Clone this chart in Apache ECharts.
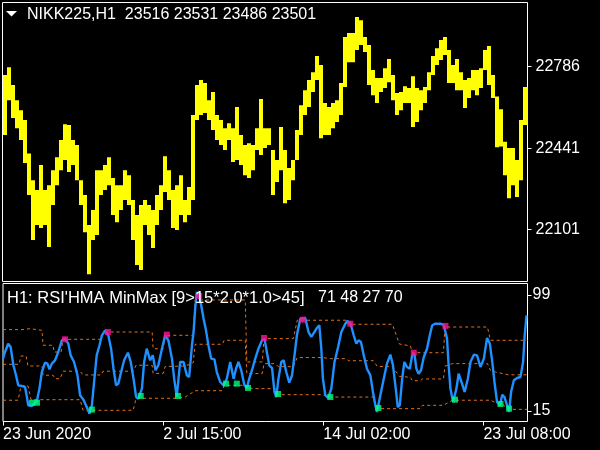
<!DOCTYPE html>
<html><head><meta charset="utf-8">
<script src="https://cdn.jsdelivr.net/npm/echarts@6/dist/echarts.min.js"></script>
<style>html,body{margin:0;padding:0;background:#000;}#c{width:600px;height:450px;}</style>
</head><body><div id="c"></div>
<script>
// ---- price panel (hourly bars, bar index 0..130) ----
const priceHigh = [22751,22784,22709,22645,22603,22561,22420,22308,22266,22372,
  22266,22287,22350,22405,22477,22544,22540,22477,22456,22308,
  22245,22119,22182,22350,22350,22372,22405,22317,22287,22287,
  22350,22329,22224,22161,22203,22224,22203,22182,22245,22287,
  22409,22350,22266,22287,22329,22224,22279,22582,22709,22730,
  22717,22645,22679,22582,22561,22527,22548,22527,22616,22498,
  22456,22464,22456,22527,22650,22527,22527,22435,22393,22532,
  22435,22359,22393,22519,22624,22687,22730,22763,22831,22793,
  22633,22616,22633,22645,22717,22911,22928,22928,22995,22982,
  22911,22877,22772,22738,22738,22780,22818,22751,22675,22679,
  22704,22696,22746,22696,22687,22700,22763,22831,22864,22898,
  22911,22856,22793,22818,22763,22730,22738,22772,22772,22780,
  22856,22873,22751,22660,22607,22470,22443,22443,22393,22561,22700];
const priceLow = [22498,22645,22570,22527,22477,22380,22245,22056,22119,22106,
  22119,22026,22203,22287,22350,22393,22342,22372,22308,22203,
  22089,21912,22056,22077,22245,22266,22287,22161,22131,22182,
  22224,22203,22056,21950,21929,22119,22077,22022,22119,22182,
  22258,22224,22106,22098,22161,22131,22161,22224,22561,22582,
  22591,22561,22519,22477,22456,22435,22477,22384,22393,22372,
  22329,22317,22350,22435,22414,22443,22456,22245,22300,22350,
  22211,22224,22308,22393,22498,22582,22616,22679,22730,22485,
  22498,22498,22527,22553,22582,22700,22805,22805,22856,22877,
  22848,22709,22666,22633,22679,22696,22721,22645,22582,22603,
  22633,22633,22532,22553,22603,22633,22687,22751,22793,22814,
  22835,22717,22717,22687,22687,22612,22654,22687,22666,22696,
  22772,22709,22654,22447,22450,22329,22232,22287,22237,22308,22540];
const priceTicks = [22786, 22441, 22101];

// ---- indicator panel ----
const rsiTicks = [99, 15];
const timeTickBars = [0, 40, 80, 120];
const timeTickLabels = ['23 Jun 2020', '2 Jul 15:00', '14 Jul 02:00', '23 Jul 08:00'];
const rsiBar = [0,0.5,1.3,1.9,2.6,3.25,3.8,4.7,5.5,5.9,6.3,7.2,8.4,9.1,9.7,10.5,11.1,11.6,12.2,13,
  13.8,14.7,15.5,16.3,16.9,17.75,18.6,19.25,20.1,21.1,21.6,22.2,22.75,23.4,24.1,24.7,25.5,26.3,27,27.6,
  28.25,28.8,29.4,30.25,31.2,31.9,32.6,33.25,33.8,34.7,35.25,35.9,36.75,37.4,38.1,38.8,39.7,40.5,41.3,42.2,
  42.75,43.4,44.25,45.1,45.9,46.5,47.2,47.6,48,48.4,49,49.5,50.1,50.7,51.3,52,52.8,53.4,54.25,55.1,
  55.9,56.75,57.6,58.2,58.8,59.5,60.3,60.9,61.5,62.3,63,63.8,64.7,65.3,65.9,66.5,67.2,67.8,68.25,68.8,
  69.5,70.1,70.75,71.5,72.2,72.8,73.4,74.25,75.5,76.3,77,77.8,78.4,79,79.5,79.9,80.5,81.2,82,82.8,
  83.7,84.5,85.5,86,86.75,87.6,88.25,88.8,89.4,90.1,90.9,91.75,92.4,93,93.4,94.25,95.1,95.9,96.75,97.4,
  98,98.6,99.1,99.7,100.25,100.9,101.6,102.2,102.75,103.25,103.8,104.4,105.1,105.9,106.6,107.2,108,109.25,110.1,110.9,
  111.3,111.75,112.4,113.25,113.8,114.5,115.3,116.1,116.75,117.6,118.4,119.25,120.1,120.9,121.6,122.2,122.75,123.4,124.1,124.7,
  125.25,125.9,126.4,126.9,127.6,128.4,129.25,129.9,130.3,130.75];
const rsiValue = [52.9,57.7,63.7,61.3,48.1,40.9,33.6,33.1,32.4,26.4,19.1,18.6,21.5,31.2,43.2,50.0,49.3,45.2,49.3,51.7,
  57.7,66.2,67.4,63.7,55.3,50.5,40.9,26.4,23.2,16.7,13.0,19.1,36.0,55.3,62.6,69.8,73.4,69.8,60.1,45.6,
  33.6,34.8,42.0,51.7,57.2,50.5,38.4,25.1,23.9,31.2,50.5,60.1,51.7,55.3,44.5,48.1,60.1,69.8,66.2,52.9,
  38.4,25.5,50.5,50.5,40.9,39.6,62.6,72.2,89.1,101.2,97.6,91.5,81.8,73.4,62.6,52.9,52.4,43.2,36.0,33.6,
  38.4,50.5,38.4,45.6,50.5,44.5,33.6,31.7,38.4,45.6,52.9,60.1,66.2,67.4,57.7,48.1,46.1,28.8,25.1,38.4,
  50.5,51.7,43.2,35.5,40.9,55.3,69.8,81.8,82.3,72.2,68.6,72.2,75.1,77.1,60.1,38.4,26.4,24.4,31.2,50.5,
  61.3,72.2,78.2,80.2,78.7,69.8,63.7,66.2,65.0,55.3,45.6,40.9,28.8,19.1,14.3,26.4,38.4,49.3,55.8,48.1,
  33.6,17.9,19.1,38.4,50.5,46.9,45.6,55.3,56.5,45.6,42.0,44.5,54.1,60.1,69.8,77.1,78.2,78.2,77.1,67.4,
  48.1,31.2,21.5,31.2,42.0,36.0,28.8,38.4,50.5,55.8,55.3,46.9,52.9,67.9,63.7,50.5,36.0,21.5,19.1,26.8,
  25.1,19.1,14.3,28.8,37.2,38.9,39.6,50.5,69.8,84.3];
const levelUpper = [[0,73.9],[4.75,73.9],[5,74.6],[6.75,74.6],[7,73.4],[9.75,73.4],[10,62.6],[12.5,62.6],[12.75,57.7],[14.5,57.7],
  [15,66.9],[24.5,66.9],[25,72.2],[37.25,72.2],[37.5,60.1],[40,60.1],[40.5,69.8],[47.5,69.8],[48,95.4],[60.5,95.4],
  [60.9,50.5],[64.75,50.5],[65.2,67.4],[72.5,67.4],[73.5,80.7],[85.75,80.7],[86.25,77.8],[97.25,77.8],[99,63.5],[101.75,62.1],
  [102.25,57.2],[110,57.2],[110.4,75.8],[121,75.8],[121.75,66.2],[131,66.2]];
const levelMiddle = [[0,48.8],[4,48.8],[4.5,54.8],[5.75,54.8],[6.25,47.6],[9.75,47.6],[10,40.9],[12.5,40.9],[13,38.4],[14.25,38.4],
  [15,43.8],[19.25,43.8],[20,41.1],[24.5,41.1],[25,43.8],[32.5,43.8],[33.25,48.1],[37.25,48.1],[37.5,42.2],[40,42.2],
  [40.5,47.2],[45.5,47.6],[47.5,49.8],[48,63.3],[54.75,63.3],[55.25,66.2],[60.5,66.2],[60.9,42.1],[64.75,42.1],[65.2,49.3],
  [68,49.3],[68.75,47.1],[72.5,47.1],[73.5,53.7],[79.75,53.7],[81.75,52.9],[85.75,52.9],[86.25,51.4],[92.5,51.4],[93.5,47.2],
  [97.25,47.2],[99,40.1],[101.75,39.4],[102.25,36.9],[104.25,36.9],[104.75,38.2],[110,38.2],[110.4,47.5],[112.25,49.3],[121,49.3],
  [121.75,44.5],[123,43.2],[126.25,41.2],[131,41.2]];
const levelLower = [[0,22.8],[3.75,22.8],[4.5,33.1],[6.25,33.1],[7,23.2],[19.25,23.2],[20,15.5],[32.5,15.5],[33.25,24.2],[43.5,24.2],
  [45.5,25.1],[48,29.7],[54.75,29.7],[55.25,33.6],[60.75,33.6],[61.25,31.2],[68,31.2],[68.75,26.8],[79.75,26.8],[81.75,25.1],
  [92.5,25.1],[93.5,16.7],[104.25,16.7],[104.75,19.1],[110,19.1],[112.25,22.8],[121.75,22.8],[123,21.1],[124.25,21.1],[126.25,16.2],[131,16.2]];
const peakBar = [15.5, 26.2, 40.9, 49, 65.2, 74.9, 86.75, 102.6, 110.5];
const peakValue = [66.9, 72.2, 70.3, 98.3, 67.9, 81.1, 78.2, 57.2, 76.6];
const troughBar = [7.25, 8.5, 22.2, 34.4, 43.7, 55.7, 58.4, 61.2, 68.7, 81.75, 93.75, 112.9, 124.25, 126.4];
const troughValue = [21.0, 21.0, 16.0, 25.9, 25.9, 34.8, 34.8, 31.7, 27.3, 25.1, 17.2, 23.2, 20.1, 16.7];

const titleMain = 'NIKK225,H1  23516 23531 23486 23501';
const titleSub = "H1: RSI'HMA MinMax [9>15*2.0*1.0>45]";
const titleSubValues = '71 48 27 70';

const FONT = 'Liberation Sans';
const chart = echarts.init(document.getElementById('c'), null, {renderer: 'canvas'});
const bars = priceHigh.map((h, i) => [i, h, priceLow[i]]);
const orange = '#e2701a';
const txt = (x, y, s, size) => ({type: 'text', x: x, y: y, z: 100,
  style: {text: s, fill: '#fff', fontFamily: FONT, fontSize: size, verticalAlign: 'middle'}});

chart.setOption({
  animation: false,
  backgroundColor: '#000',
  grid: [
    {left: 2.5, top: 2.5, width: 525, height: 279, show: true, borderColor: '#fff', borderWidth: 1},
    {left: 2.5, top: 283.5, width: 525, height: 138, show: true, borderColor: '#fff', borderWidth: 1}
  ],
  xAxis: [
    {type: 'value', gridIndex: 0, min: 0, max: 131, show: false},
    {type: 'value', gridIndex: 1, min: 0, max: 131,
      axisLine: {show: false, onZero: false}, splitLine: {show: false},
      axisTick: {show: true, inside: false, length: 4, customValues: timeTickBars, lineStyle: {color: '#fff'}},
      axisLabel: {customValues: timeTickBars, align: 'left', margin: 5, color: '#fff',
        fontFamily: FONT, fontSize: 16,
        formatter: v => timeTickLabels[timeTickBars.indexOf(v)] || ''}}
  ],
  yAxis: [
    {type: 'value', gridIndex: 0, position: 'right', min: 21881, max: 23056.5,
      axisLine: {show: false, onZero: false}, splitLine: {show: false},
      axisTick: {show: true, inside: false, length: 4, customValues: priceTicks, lineStyle: {color: '#fff'}},
      axisLabel: {customValues: priceTicks, margin: 8, color: '#fff', fontFamily: FONT, fontSize: 16,
        formatter: v => String(v)}},
    {type: 'value', gridIndex: 1, position: 'right', min: 7.4, max: 107.3,
      axisLine: {show: false, onZero: false}, splitLine: {show: false},
      axisTick: {show: true, inside: false, length: 4, customValues: rsiTicks, lineStyle: {color: '#fff'}},
      axisLabel: {customValues: rsiTicks, margin: 5, color: '#fff', fontFamily: FONT, fontSize: 16,
        formatter: v => String(v)}}
  ],
  graphic: [
    {type: 'polygon', shape: {points: [[6, 11], [17, 11], [11.5, 16.5]]}, style: {fill: '#fff'}},
    txt(27, 15, titleMain, 16),
    txt(7, 298, titleSub, 16.5),
    txt(318, 298, titleSubValues, 16)
  ],
  series: [
    {type: 'custom', xAxisIndex: 0, yAxisIndex: 0, data: bars, clip: true,
      encode: {x: 0, y: [1, 2]},
      renderItem: (params, api) => {
        const p0 = api.coord([api.value(0), api.value(1)]);
        const p1 = api.coord([api.value(0) + 1, api.value(2)]);
        const x0 = Math.round(p0[0]), x1 = Math.round(p1[0]);
        return {type: 'rect', shape: {x: x0, y: p0[1], width: x1 - x0, height: Math.max(1, p1[1] - p0[1])},
          style: {fill: '#ffff00'}};
      }},
    {type: 'line', xAxisIndex: 1, yAxisIndex: 1, data: levelUpper, symbol: 'none',
      lineStyle: {color: orange, width: 1, type: [3, 3]}},
    {type: 'line', xAxisIndex: 1, yAxisIndex: 1, data: levelMiddle, symbol: 'none',
      lineStyle: {color: orange, width: 1, type: [3, 3]}},
    {type: 'line', xAxisIndex: 1, yAxisIndex: 1, data: levelLower, symbol: 'none',
      lineStyle: {color: orange, width: 1, type: [3, 3]}},
    {type: 'line', xAxisIndex: 1, yAxisIndex: 1, data: rsiBar.map((b, i) => [b, rsiValue[i]]), symbol: 'none',
      lineStyle: {color: '#1e90ff', width: 2.4}, z: 3},
    {type: 'scatter', xAxisIndex: 1, yAxisIndex: 1, data: peakBar.map((b, i) => [b, peakValue[i]]),
      symbol: 'rect', symbolSize: 6, itemStyle: {color: '#ff1493'}, z: 4},
    {type: 'scatter', xAxisIndex: 1, yAxisIndex: 1, data: troughBar.map((b, i) => [b, troughValue[i]]),
      symbol: 'rect', symbolSize: 6, itemStyle: {color: '#00ff7f'}, z: 4}
  ]
});
</script></body></html>
